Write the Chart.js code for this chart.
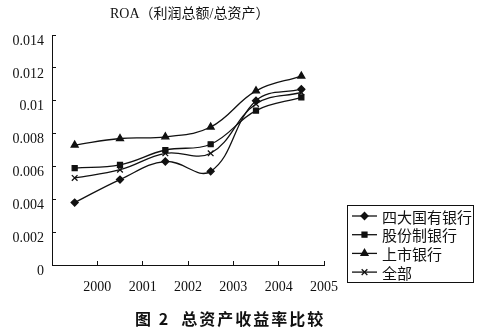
<!DOCTYPE html>
<html>
<head>
<meta charset="utf-8">
<script src="https://cdn.jsdelivr.net/npm/chart.js@4/dist/chart.umd.min.js"></script>
<style>
  html, body { margin: 0; padding: 0; background: #fff; }
  #wrap { position: relative; width: 479px; height: 334px; }
  #title { position: absolute; left: 110px; top: 2px; font: 14px "Liberation Serif", "Noto Sans CJK SC", serif; color: #111; white-space: nowrap; }
  #caption { position: absolute; left: 135px; top: 306px; font: bold 16px "Noto Sans CJK SC", sans-serif; color: #111; letter-spacing: 2px; white-space: pre; }
</style>
</head>
<body>
<div id="wrap">
  <canvas id="myChart" width="479" height="334"></canvas>
  <div id="title">ROA（利润总额/总资产）</div>
  <div id="caption">图 2  总资产收益率比较</div>
</div>
<script>
const years = ["2000", "2001", "2002", "2003", "2004", "2005"];
const xTicks = ["", "2000", "2001", "2002", "2003", "2004", "2005"];
const yTicks = ["0", "0.002", "0.004", "0.006", "0.008", "0.01", "0.012", "0.014"];

const seriesNames = ["四大国有银行", "股份制银行", "上市银行", "全部"];
const bigFour = [0.0038, 0.0052, 0.0063, 0.0057, 0.0100, 0.0107];
const jointStock = [0.0059, 0.0061, 0.0070, 0.00735, 0.0094, 0.0102];
const listed = [0.0073, 0.0077, 0.0078, 0.0084, 0.0106, 0.0115];
const all = [0.0053, 0.0058, 0.0068, 0.0068, 0.0098, 0.0105];

const markers = ["rectRot", "rect", "triangle", "crossRot"];
const sizes = [3.5, 3.5, 4, 4];

// points sit in the middle of each year interval
const toPoints = (vals) => vals.map((v, i) => ({ x: i + 0.5, y: v }));

const datasets = [bigFour, jointStock, listed, all].map((vals, i) => ({
  label: seriesNames[i],
  data: toPoints(vals),
  borderColor: "#111",
  backgroundColor: "#111",
  borderWidth: 1.3,
  pointStyle: markers[i],
  pointRadius: sizes[i],
  pointBorderWidth: 1.3,
  tension: 0.4,
}));

const boxLegend = {
  id: "boxLegend",
  afterDraw(chart) {
    const c = chart.ctx;
    c.save();
    c.strokeStyle = "#111";
    c.lineWidth = 1;
    c.strokeRect(347.5, 205.5, 126, 77);
    c.font = '15px "Noto Sans CJK SC", sans-serif';
    c.textBaseline = "middle";
    chart.data.datasets.forEach((ds, i) => {
      const y = 216 + i * 18.7;
      c.strokeStyle = "#111";
      c.fillStyle = "#111";
      c.lineWidth = 1.3;
      c.beginPath();
      c.moveTo(352, y);
      c.lineTo(377, y);
      c.stroke();
      Chart.helpers.drawPoint(c, { pointStyle: ds.pointStyle, radius: ds.pointRadius, borderWidth: 1.3, rotation: 0 }, 364.5, y);
      c.fillText(ds.label, 382, y + 1);
    });
    c.restore();
  },
};

const ctx = document.getElementById("myChart");
new Chart(ctx, {
  type: "line",
  data: { datasets: datasets },
  plugins: [boxLegend],
  options: {
    responsive: false,
    animation: false,
    layout: { padding: { left: 0, right: 155, top: 35, bottom: 39 } },
    plugins: { legend: { display: false }, tooltip: { enabled: false } },
    scales: {
      x: {
        type: "linear",
        min: 0,
        max: 6,
        afterFit: (s) => { s.height = 30; },
        afterBuildTicks: (s) => { s.ticks = xTicks.map((t, i) => ({ value: i })); },
        ticks: {
          stepSize: 1,
          padding: 18,
          color: "#111",
          font: { family: "Liberation Serif", size: 14 },
          callback: (v, i) => xTicks[i],
          maxRotation: 0,
          autoSkip: false,
        },
        grid: { drawOnChartArea: false, tickLength: -4, color: "#111" },
        border: { color: "#111", width: 1 },
      },
      y: {
        min: 0,
        max: 0.014,
        afterFit: (s) => { s.width = 52; },
        afterBuildTicks: (s) => { s.ticks = yTicks.map((t, i) => ({ value: i * 0.002 })); },
        ticks: {
          padding: 12,
          labelOffset: 6,
          color: "#111",
          font: { family: "Liberation Serif", size: 14 },
          callback: (v, i) => yTicks[i],
        },
        grid: { drawOnChartArea: false, tickLength: -4, color: "#111" },
        border: { color: "#111", width: 1 },
      },
    },
  },
});
</script>
</body>
</html>
